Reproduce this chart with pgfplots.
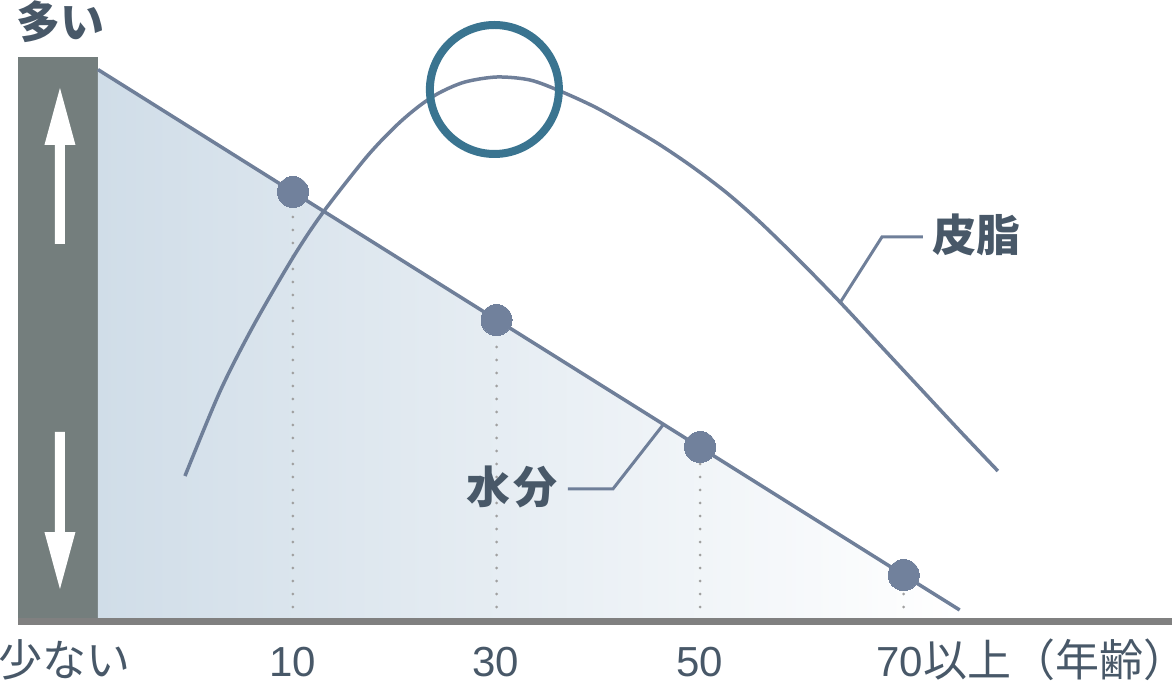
\documentclass[border=0pt]{standalone}
\usepackage{fontspec}
\setmainfont{Noto Sans CJK JP}
\newfontfamily\numfont{Liberation Sans}
\usepackage{pgfplots}
\usepackage{pgfplotstable}
\pgfplotsset{compat=1.18}

\definecolor{linec}{HTML}{6F7F99}
\definecolor{markc}{HTML}{71819C}
\definecolor{textc}{HTML}{485868}
\definecolor{barc}{HTML}{747E7D}
\definecolor{axisc}{HTML}{808080}
\definecolor{circc}{HTML}{3A7490}
\definecolor{fillc}{HTML}{D0DDE8}
\definecolor{dotc}{HTML}{A0A0A0}

% water content, straight line from the bar to ~75
\pgfplotstableread{
age level
-9.155 550.4
10 428
30 300.3
50 172.7
70 45
75.5 10
}\water

\pgfplotstableread{
age level
10 428
30 300
50 173
70 45
}\watermarks

% sebum curve
\pgfplotstableread{
age level
-0.609 144
2.829 228.5
6.071 293.5
10 362.5
12.947 407.5
17.269 463.5
20.216 495
22.475 514.5
24.440 527.5
26.896 538
30.039 543
33.281 540
36.228 529
39.666 513
42.809 495
46.051 475.2
49.292 452.8
52.633 427
55.874 398
59.804 359
63.733 318
67.662 275
71.591 232
75.521 189
79.253 149
}\sebum

\newcommand{\jpsize}{\fontsize{44}{50}\selectfont}
\newcommand{\numsize}{\fontsize{42}{48}\selectfont}

\begin{document}
\begin{tikzpicture}
\begin{axis}[
    at={(0,0)}, anchor=south west,
    scale only axis,
    width=1172pt, height=683pt,
    xmin=-18.78, xmax=96.35,
    ymin=-63, ymax=620,
    axis lines=none,
    clip=false,
]
% level bar on the left
\fill[barc] (axis cs:-17.01,0) rectangle (axis cs:-9.155,563);

% shaded area under the water line
\addplot[draw=none, left color=fillc, right color=white] table[x=age,y=level] {\water} \closedcycle;

% dotted drop lines
\addplot[ycomb, mark=none, draw=dotc, line width=3pt, line cap=round,
    dash pattern=on 0pt off 13pt] table[x=age,y=level] {\watermarks};

% base line
\draw[axisc, line width=7pt] (axis cs:-17.01,-1) -- (axis cs:96.35,-1);

% water
\addplot[linec, line width=3.5pt, mark=none] table[x=age,y=level] {\water};
% sebum
\addplot[linec, line width=3.5pt, mark=none, smooth] table[x=age,y=level] {\sebum};
% markers
\addplot[markc, only marks, mark=*, mark size=15.5pt,
    mark options={draw=markc, fill=markc, line width=0pt}]
    table[x=age,y=level] {\watermarks};

% peak ring
\draw[circc, line width=8pt] (axis cs:29.79,530.5) circle[radius=64.5pt];

% arrows in the bar
\fill[white] (axis cs:-12.89,532) -- ++(15.5pt,-57pt) -- ++(-10.5pt,0pt)
    -- ++(0pt,-99pt) -- ++(-10pt,0pt) -- ++(0pt,99pt) -- ++(-10.5pt,0pt) -- cycle;
\fill[white] (axis cs:-12.89,31) -- ++(15.5pt,57pt) -- ++(-10.5pt,0pt)
    -- ++(0pt,100pt) -- ++(-10pt,0pt) -- ++(0pt,-100pt) -- ++(-10.5pt,0pt) -- cycle;

% leader lines
\draw[linec, line width=3pt] (axis cs:63.73,317) -- (axis cs:67.86,383) -- (axis cs:71.89,383);
\draw[linec, line width=3pt] (axis cs:46.35,195) -- (axis cs:41.43,131) -- (axis cs:37.01,131);

% labels
\begin{scope}[every node/.style={inner sep=0pt, text=textc}]
\node[anchor=base west] at (axis cs:-17.21,581) {\jpsize\bfseries 多い};
\node[anchor=base west] at (axis cs:-18.98,-56) {\jpsize 少ない};
\node[anchor=base] at (axis cs:10,-56) {\numfont\numsize 10};
\node[anchor=base] at (axis cs:29.94,-56) {\numfont\numsize 30};
\node[anchor=base] at (axis cs:49.98,-56) {\numfont\numsize 50};
\node[anchor=base west] at (axis cs:67.30,-56) {{\numfont\numsize 70}{\jpsize 以上（年齢）}\kern-26pt};
\node[anchor=base west] at (axis cs:72.77,368) {\jpsize\bfseries 皮脂};
\node[anchor=base west] at (axis cs:27.0,116) {\jpsize\bfseries 水\hspace{3pt}分};
\end{scope}
\end{axis}
\pgfresetboundingbox
\path (0,0) rectangle (1172pt,683pt);
\end{tikzpicture}
\end{document}
